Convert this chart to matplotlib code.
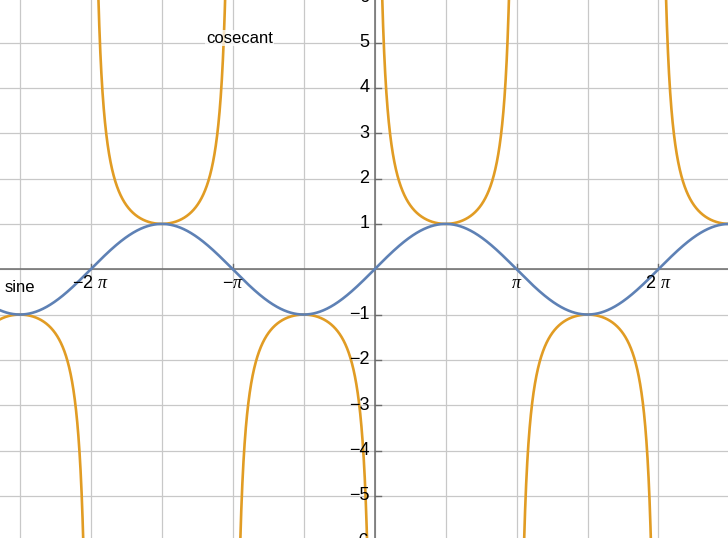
import numpy as np
import matplotlib.pyplot as plt

# plot range
X_MIN, X_MAX = -2.64 * np.pi, 2.49 * np.pi
Y_MIN, Y_MAX = -5.93, 5.94

x_ticks = [-2 * np.pi, -np.pi, np.pi, 2 * np.pi]
x_tick_labels = ["\u22122 $\\pi$", "\u2212$\\pi$", "$\\pi$", "2 $\\pi$"]
y_ticks = [-6, -5, -4, -3, -2, -1, 1, 2, 3, 4, 5, 6]
x_grid = np.arange(-5, 5) * np.pi / 2
y_grid = np.arange(-6, 7)

labels = ["sine", "cosecant"]
label_pos = [(-8.2, -0.41), (-2.99, 5.1)]
colors = ["#5E81B5", "#E19C24"]

plt.rcParams["font.family"] = ["Liberation Sans", "DejaVu Sans"]
plt.rcParams["mathtext.fontset"] = "custom"
plt.rcParams["mathtext.it"] = "Liberation Serif:italic"

fig = plt.figure(figsize=(7.28, 5.38), dpi=100)
ax = fig.add_axes([0, 0, 1, 1])

for gx in x_grid:
    ax.axvline(gx, color="#C8C8C8", lw=0.9, zorder=0)
for gy in y_grid:
    ax.axhline(gy, color="#C8C8C8", lw=0.9, zorder=0)
ax.axhline(0, color="#6B6B6B", lw=1.1, zorder=1)
ax.axvline(0, color="#6B6B6B", lw=1.1, zorder=1)

# sine
xs = np.linspace(X_MIN, X_MAX, 2000)
ax.plot(xs, np.sin(xs), color=colors[0], lw=1.9, zorder=3)

# cosecant, one branch per interval between poles
for k in range(-3, 3):
    xb = np.linspace(k * np.pi + 1e-3, (k + 1) * np.pi - 1e-3, 1500)
    ax.plot(xb, 1 / np.sin(xb), color=colors[1], lw=1.9, zorder=2)

ax.text(*label_pos[0], labels[0], fontsize=12, ha="left", va="center", zorder=5)
ax.text(*label_pos[1], labels[1], fontsize=12, ha="center", va="center", zorder=5,
        bbox=dict(facecolor="white", edgecolor="none", alpha=0.75, pad=0.5))

# tick labels drawn along the axes, Mathematica-like
for t, lab in zip(x_ticks, x_tick_labels):
    ax.plot([t, t], [0, 0.12], color="#6B6B6B", lw=1, zorder=1)
    ax.text(t, -0.13, lab, fontsize=13, ha="center", va="top", zorder=4)
for t in y_ticks:
    ax.plot([0, 0.13], [t, t], color="#6B6B6B", lw=1, zorder=1)
    ax.text(-0.12, t, "\u2212" + str(-t) if t < 0 else str(t), fontsize=13,
            ha="right", va="center", zorder=4)

ax.set_xlim(X_MIN, X_MAX)
ax.set_ylim(Y_MIN, Y_MAX)
ax.axis("off")

fig.savefig("out.png", dpi=100)
